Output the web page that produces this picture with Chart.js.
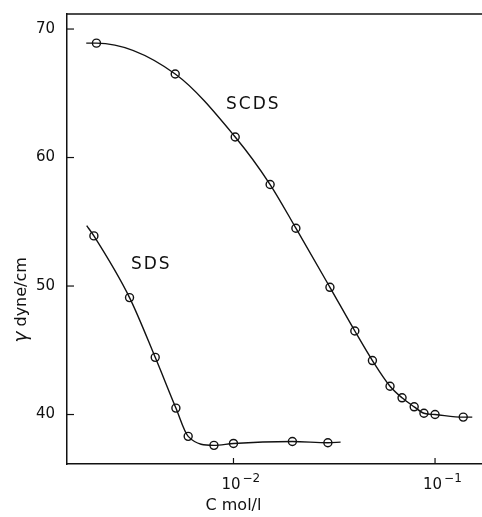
<!DOCTYPE html>
<html>
<head>
<meta charset="utf-8">
<script src="https://cdn.jsdelivr.net/npm/chart.js@4.4.1/dist/chart.umd.min.js"></script>
<style>
  html, body { margin: 0; padding: 0; background: #fff; }
  #wrap { width: 482px; height: 517px; }
</style>
</head>
<body>
<div id="wrap"><canvas id="c" width="482" height="517"></canvas></div>
<script>
// SCDS measured points (C in mol/l, gamma in dyne/cm)
const scdsC = [0.00209, 0.00514, 0.0102, 0.0152, 0.0204, 0.0301, 0.040, 0.0489, 0.0598, 0.0686, 0.0788, 0.0881, 0.100, 0.138];
const scdsG = [68.9, 66.5, 61.6, 57.9, 54.5, 49.9, 46.5, 44.2, 42.2, 41.3, 40.6, 40.1, 40.0, 39.8];
// where the drawn SCDS curve starts and ends
const scdsEnds = [[0.00186, 68.9], [0.153, 39.8]];

// SDS measured points
const sdsC = [0.00203, 0.00305, 0.00409, 0.00518, 0.00596, 0.0080, 0.0100, 0.0196, 0.0294];
const sdsG = [53.9, 49.1, 44.45, 40.5, 38.3, 37.6, 37.75, 37.9, 37.8];
const sdsEnds = [[0.00187, 54.7], [0.0340, 37.85]];

const xTicks = [0.01, 0.1];
const xTickExp = ['\u22122', '\u22121'];
const yTicks = [40, 50, 60, 70];

const pts = (xs, ys) => xs.map((x, i) => ({ x: x, y: ys[i] }));
const curve = (xs, ys, ends) => [{ x: ends[0][0], y: ends[0][1] }, ...pts(xs, ys), { x: ends[1][0], y: ends[1][1] }];

const ink = '#111';
const font = '"DejaVu Sans", sans-serif';

const decor = {
  id: 'decor',
  afterDraw(chart) {
    const ctx = chart.ctx;
    const a = chart.chartArea;
    const xs = chart.scales.x, ys = chart.scales.y;
    ctx.save();
    ctx.strokeStyle = ink;
    ctx.lineWidth = 1.5;
    // top frame line
    ctx.beginPath();
    ctx.moveTo(a.left, a.top);
    ctx.lineTo(a.right, a.top);
    ctx.stroke();
    // inward ticks
    ctx.lineWidth = 1.2;
    yTicks.forEach(v => {
      const y = ys.getPixelForValue(v);
      ctx.beginPath(); ctx.moveTo(a.left, y); ctx.lineTo(a.left + 7, y); ctx.stroke();
    });
    ctx.fillStyle = ink;
    xTicks.forEach((v, i) => {
      const x = xs.getPixelForValue(v);
      ctx.beginPath(); ctx.moveTo(x, a.bottom); ctx.lineTo(x, a.bottom - 6); ctx.stroke();
      // label 10 with raised exponent
      ctx.textBaseline = 'alphabetic';
      ctx.textAlign = 'left';
      ctx.font = '15px ' + font;
      const w = ctx.measureText('10').width;
      ctx.fillText('10', x - 12, 489);
      ctx.font = '12px ' + font;
      ctx.fillText(xTickExp[i], x - 12 + w + 2, 482);
    });
    // series labels
    ctx.font = '17px ' + font;
    ctx.textAlign = 'center';
    ctx.textBaseline = 'middle';
    ctx.letterSpacing = '2px';
    ctx.fillText('SCDS', xs.getPixelForValue(0.01254), ys.getPixelForValue(64.15));
    ctx.fillText('SDS', xs.getPixelForValue(0.00391), ys.getPixelForValue(51.7));
    ctx.letterSpacing = '0px';
    // axis titles
    ctx.font = '16px ' + font;
    ctx.fillText('C mol/l', xs.getPixelForValue(0.0100), 506);
    ctx.translate(22, 300);
    ctx.rotate(-Math.PI / 2);
    ctx.textAlign = 'left';
    const rest = ' dyne/cm';
    ctx.font = 'italic 19px ' + font;
    const gw = ctx.measureText('\u03B3').width;
    ctx.font = '16px ' + font;
    const rw = ctx.measureText(rest).width;
    const x0 = -(gw + rw) / 2;
    ctx.font = 'italic 19px ' + font;
    ctx.fillText('\u03B3', x0, 0);
    ctx.font = '16px ' + font;
    ctx.fillText(rest, x0 + gw, 0);
    ctx.restore();
  }
};

new Chart(document.getElementById('c'), {
  type: 'scatter',
  data: {
    datasets: [
      {
        data: curve(scdsC, scdsG, scdsEnds),
        showLine: true, pointRadius: 0, borderColor: ink, borderWidth: 1.4,
        cubicInterpolationMode: 'monotone'
      },
      {
        data: pts(scdsC, scdsG),
        showLine: false, pointRadius: 4, pointBackgroundColor: '#fff',
        pointBorderColor: ink, pointBorderWidth: 1.4
      },
      {
        data: curve(sdsC, sdsG, sdsEnds),
        showLine: true, pointRadius: 0, borderColor: ink, borderWidth: 1.4,
        cubicInterpolationMode: 'monotone'
      },
      {
        data: pts(sdsC, sdsG),
        showLine: false, pointRadius: 4, pointBackgroundColor: '#fff',
        pointBorderColor: ink, pointBorderWidth: 1.4
      }
    ]
  },
  options: {
    responsive: false,
    animation: false,
    layout: { autoPadding: false, padding: { top: 14, right: 0, left: 0, bottom: 0 } },
    plugins: { legend: { display: false }, tooltip: { enabled: false } },
    scales: {
      x: {
        type: 'logarithmic',
        min: 0.001493, max: 0.171,
        grid: { display: false, drawTicks: false },
        border: { display: true, color: ink, width: 1.5 },
        afterBuildTicks: s => { s.ticks = xTicks.map(v => ({ value: v })); },
        afterFit: s => { s.height = 53; s.paddingLeft = 0; s.paddingRight = 0; },
        ticks: { display: false }
      },
      y: {
        min: 36.15, max: 71.17,
        grid: { display: false, drawTicks: false },
        border: { display: true, color: ink, width: 1.5 },
        afterBuildTicks: s => { s.ticks = yTicks.map(v => ({ value: v })); },
        afterFit: s => { s.width = 67; s.paddingTop = 0; s.paddingBottom = 0; },
        ticks: {
          color: ink, padding: 12, autoSkip: false,
          font: { family: font, size: 15 }
        }
      }
    }
  },
  plugins: [decor]
});
</script>
</body>
</html>
